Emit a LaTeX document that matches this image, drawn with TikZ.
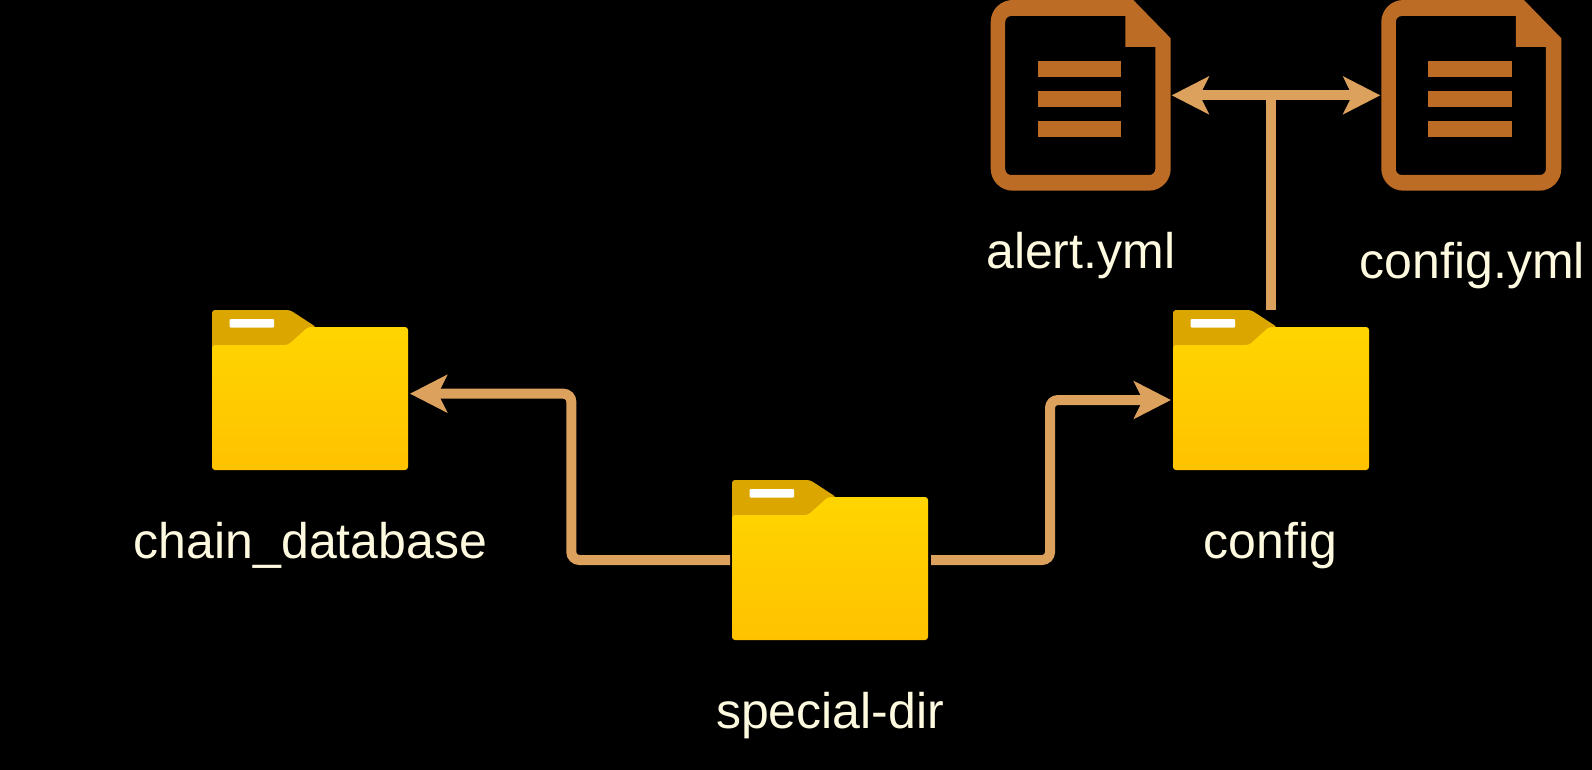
\documentclass[tikz,border=0pt]{standalone}
\usepackage{fontspec}
\setmainfont{Liberation Sans}
\usetikzlibrary{arrows.meta,calc}

\definecolor{linkcol}{HTML}{DDA15E}
\definecolor{doccol}{HTML}{BC6C25}
\definecolor{txtcol}{HTML}{FEFAE0}
\definecolor{tabcol}{HTML}{DCA600}
\definecolor{foldtop}{HTML}{FFD500}
\definecolor{foldbot}{HTML}{FFC200}

\tikzset{
	folderbox/.style={minimum width=196pt, minimum height=160pt, inner sep=0pt, outer sep=2pt},
	docbox/.style={minimum width=180pt, minimum height=190.7pt, inner sep=0pt, outer sep=1pt},
	lbl/.style={anchor=base, text=txtcol, font=\fontsize{50}{60}\selectfont},
	link/.style={line width=10pt, draw=linkcol, rounded corners=8pt},
	tip/.style={-{Stealth[length=37pt,width=37.4pt,inset=9pt]}},
}

% folder icon, #1 name, #2 center
\newcommand{\folder}[2]{
	\node[folderbox] (#1) at (#2) {};
	\begin{scope}[shift={(#1.center)}, shift={(-98,-80)}]
		\fill[tabcol, rounded corners=3pt] (0,50) -- (0,0) -- (78,0) -- (104,17) -- (104,50) -- cycle;
		\shade[top color=foldtop, bottom color=foldbot, rounded corners=3pt]
			(0,35) -- (76,35) -- (96,17) -- (196,17) -- (196,160) -- (0,160) -- cycle;
		\fill[white, rounded corners=1pt] (17.7,9) rectangle (62,17.7);
	\end{scope}
}

% file icon, #1 name, #2 center
\newcommand{\docfile}[2]{
	\node[docbox] (#1) at (#2) {};
	\begin{scope}[shift={(#1.center)}, shift={(-90,-95.35)}]
		\fill[doccol, even odd rule, rounded corners=22pt]
			(0,95) -- (0,0) [sharp corners] -- (142.6,0) -- (180,38.3)
			[rounded corners=22pt] -- (180,190.7) -- (0,190.7) -- cycle
			[rounded corners=6pt] (14.5,95) -- (14.5,16) [sharp corners] -- (134.6,16) -- (134.6,47) -- (164.6,47)
			[rounded corners=6pt] -- (164.6,175) -- (14.5,175) -- cycle;
		\foreach \bary in {61.3,91,121.3}
			\fill[doccol] (47,\bary) rectangle (130.6,\bary+15.7);
	\end{scope}
}

\begin{document}
\begin{tikzpicture}[x=1pt, y=-1pt]
	
	% background
	\fill[black] (0,0) rectangle (1592,770);
	\useasboundingbox (0,0) rectangle (1592,770);
	
	% folders
	\folder{chain}{310,390}
	\folder{config}{1271,390}
	\folder{special}{830,560}
	
	% files
	\docfile{alert}{1080.7,95.35}
	\docfile{cfgfile}{1471.3,95.35}
	
	% labels
	\node[lbl] (chainlbl) at (310.5,558) {chain\_database};
	\node[lbl] (configlbl) at (1270.6,558) {config};
	\node[lbl] (speciallbl) at (830,728) {special-dir};
	\node[lbl] (alertlbl) at (1080.7,268.5) {alert.yml};
	\node[lbl] (cfgfilelbl) at (1472.3,278.5) {config.yml};
	
	% connectors
	\draw[link, tip] (special.west) -- ++(-158.7,0) |- ([yshift=-3.7pt]chain.east);
	\draw[link, tip] ([xshift=1pt]special.east) -- ++(119,0) |- ([yshift=-10pt]config.west);
	\draw[link, {Stealth[length=37pt,width=37.4pt,inset=9pt]}-{Stealth[length=37pt,width=37.4pt,inset=9pt]}] (alert.east) -- (cfgfile.west);
	\draw[link] ([yshift=-2pt]config.north) -- (config.north |- alert.east);
	
\end{tikzpicture}
\end{document}
